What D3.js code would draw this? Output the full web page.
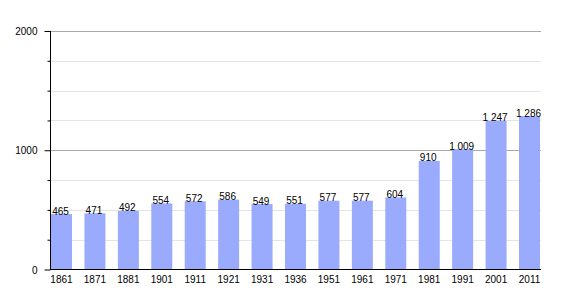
<!DOCTYPE html>
<html>
<head>
<meta charset="utf-8">
<script src="https://cdn.jsdelivr.net/npm/d3@7"></script>
<style>
  html, body { margin: 0; padding: 0; background: #fff; }
  svg { display: block; }
  text { font-family: "Liberation Sans", Arial, sans-serif; font-size: 10px; fill: #000; }
</style>
</head>
<body>
<svg id="chart" width="570" height="300"></svg>
<script>
const years = ["1861","1871","1881","1901","1911","1921","1931","1936","1951","1961","1971","1981","1991","2001","2011"];
const population = [465,471,492,554,572,586,549,551,577,577,604,910,1009,1247,1286];
const majorTicks = [0,1000,2000];
const minorTicks = [250,500,750,1250,1500,1750];

const svg = d3.select("#chart");
const x = d3.scaleBand().domain(years).range([51,540]).paddingInner(0.372).paddingOuter(0);
const y = d3.scaleLinear().domain([0,2000]).range([269.5,31]);
const fmt = v => d3.format(",")(v).replace(/,/g, " ");

// minor gridlines
svg.append("g").selectAll("line").data(minorTicks).join("line")
  .attr("x1", 51).attr("x2", 541)
  .attr("y1", d => Math.round(y(d)) + 0.5).attr("y2", d => Math.round(y(d)) + 0.5)
  .attr("stroke", "#e4e4e4").attr("stroke-width", 1);
// major gridlines
svg.append("g").selectAll("line").data(majorTicks.filter(d => d > 0)).join("line")
  .attr("x1", 51).attr("x2", 541)
  .attr("y1", d => Math.round(y(d)) + 0.5).attr("y2", d => Math.round(y(d)) + 0.5)
  .attr("stroke", "#a8a8a8").attr("stroke-width", 1);

// bars
svg.append("g").selectAll("rect").data(population).join("rect")
  .attr("x", (d,i) => x(years[i]))
  .attr("width", x.bandwidth())
  .attr("y", d => y(d))
  .attr("height", d => y(0) - y(d))
  .attr("fill", "#9aabfd");

// value labels
svg.append("g").selectAll("text").data(population).join("text")
  .attr("x", (d,i) => x(years[i]) + x.bandwidth()/2 - 1)
  .attr("y", d => y(d) + 0.5)
  .attr("text-anchor", "middle")
  .text(d => fmt(d));

// y axis
const yAxisMajor = d3.axisLeft(y).tickValues(majorTicks).tickSize(6).tickPadding(7).tickFormat(d3.format("d"));
const gY = svg.append("g").attr("transform", "translate(50.5,0)").call(yAxisMajor);
gY.select(".domain").attr("d", `M0,${y(2000)}V${y(0)}`).attr("stroke", "#000");
gY.selectAll(".tick text").attr("dy", "0.35em").style("font-size", "10px").style("font-family", '"Liberation Sans", Arial, sans-serif');
const yAxisMinor = d3.axisLeft(y).tickValues(minorTicks).tickSize(3).tickFormat("");
const gYm = svg.append("g").attr("transform", "translate(50.5,0)").call(yAxisMinor);
gYm.select(".domain").remove();

// x axis
const xAxis = d3.axisBottom(x).tickSize(0).tickPadding(6);
const gX = svg.append("g").attr("transform", `translate(0,${y(0)})`).call(xAxis);
gX.select(".domain").attr("d", "M50,0H541").attr("stroke", "#000");
gX.selectAll(".tick text").style("font-size", "10px").style("font-family", '"Liberation Sans", Arial, sans-serif');
</script>
</body>
</html>
